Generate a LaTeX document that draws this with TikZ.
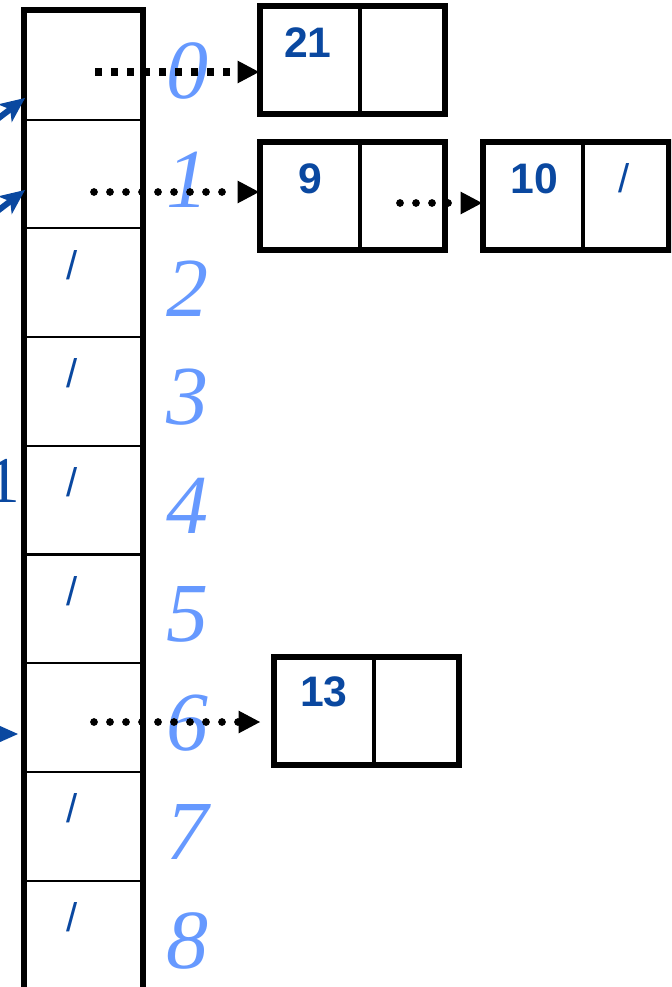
\documentclass[tikz,border=0pt]{standalone}
\usepackage{fontspec}
\setmainfont{Liberation Serif}
\newfontfamily\sansf{Liberation Sans}
\usetikzlibrary{arrows.meta}
\definecolor{dkblue}{HTML}{0A48A0}
\definecolor{ltblue}{HTML}{6699FF}
\begin{document}
\begin{tikzpicture}[x=0.75pt,y=-0.75pt,
  cell/.style={draw, line width=1.5pt, minimum width=88.1pt, minimum height=81.5pt, inner sep=0pt},
  keyhalf/.style={draw, line width=1.5pt, minimum width=73.5pt, minimum height=79.5pt, inner sep=0pt},
  ptrhalf/.style={draw, line width=1.5pt, minimum width=62.6pt, minimum height=79.5pt, inner sep=0pt, anchor=west},
  frame/.style={line width=4.5pt},
  idx/.style={text=ltblue, font=\fontsize{63}{63}\selectfont\itshape, inner sep=0pt},
  num/.style={text=dkblue, font=\sansf\bfseries\fontsize{32}{32}\selectfont, inner sep=0pt},
  nil/.style={text=dkblue, font=\sansf\fontsize{30}{30}\selectfont, inner sep=0pt},
  sqdots/.style={line width=5.5pt, dash pattern=on 5.5pt off 6.5pt, -{Triangle[length=16pt,width=17pt,line width=0pt]}},
  rddots/.style={line width=5.8pt, line cap=round, dash pattern=on 0pt off 12pt, -{Triangle[length=16pt,width=17pt,line width=0pt]}},
  bluearrow/.style={draw=dkblue, line width=4.5pt, -{Stealth[length=19pt,width=17pt,inset=5pt,line width=0pt]}}
]
\useasboundingbox (0,0) rectangle (671,987);
\clip (0,0) rectangle (671,987);

% table cells
\foreach \i in {0,...,8}{
  \node[cell] (c\i) at (83.25, 65.35+108.7*\i) {};
}
\draw[frame] (c0.north west) rectangle (c8.south east);

% nil slashes in cells
\foreach \i in {2,3,4,5,7,8}{
  \node[nil] (n\i) at (72, 47.35+108.7*\i) {/};
}

% index digits
\foreach \i in {0,...,8}{
  \node[idx] (i\i) at (187, 71.35+108.7*\i) {\i};
}

% list boxes
\node[keyhalf] (k21) at (310,60.5) {};
\node[ptrhalf] (p21) at (k21.east) {};
\draw[frame] (k21.north west) rectangle (p21.south east);
\node[num] (t21) at (308,42.5) {21};

\node[keyhalf] (k9) at (310,196.5) {};
\node[ptrhalf] (p9) at (k9.east) {};
\draw[frame] (k9.north west) rectangle (p9.south east);
\node[num] (t9) at (310,179) {9};

\node[keyhalf] (k10) at (533.25,196.5) {};
\node[ptrhalf] (p10) at (k10.east) {};
\draw[frame] (k10.north west) rectangle (p10.south east);
\node[num] (t10) at (534,179) {10};
\node[nil] (n10) at (624,178) {/};

\node[keyhalf] (k13) at (324,711) {};
\node[ptrhalf] (p13) at (k13.east) {};
\draw[frame] (k13.north west) rectangle (p13.south east);
\node[num] (t13) at (324,692) {13};

% dotted pointers
\coordinate (s0) at (95,72);   \coordinate (e0) at (259,72);
\coordinate (s1) at (94,192);  \coordinate (e1) at (259,192);
\coordinate (s6) at (94,722);  \coordinate (e6) at (260,722);
\coordinate (s9) at (400,203); \coordinate (e9) at (482,203);
\draw[sqdots] (s0) -- (e0);
\draw[rddots] (s1) -- (e1);
\draw[rddots] (s6) -- (e6);
\draw[rddots] (s9) -- (e9);

% incoming blue arrows (cut at the left edge)
\coordinate (a0) at (-30,140); \coordinate (b0) at (25,98);
\coordinate (a1) at (-30,232); \coordinate (b1) at (25,190);
\coordinate (a6) at (-40,734); \coordinate (b6) at (18,734);
\draw[bluearrow] (a0) -- (b0);
\draw[bluearrow] (a1) -- (b1);
\draw[bluearrow] (a6) -- (b6);

% partly visible label at the left edge
\node[text=dkblue, font=\fontsize{49}{49}\selectfont, anchor=base east, inner sep=0pt] (one) at (20,502) {1};
\end{tikzpicture}
\end{document}
